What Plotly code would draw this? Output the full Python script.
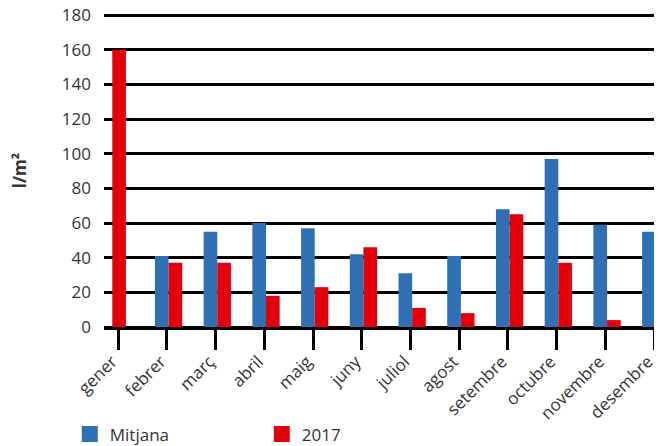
import plotly.graph_objects as go

months = ["gener", "febrer", "març", "abril", "maig", "juny", "juliol",
          "agost", "setembre", "octubre", "novembre", "desembre"]
mitjana = [None, 41, 55, 60, 57, 42, 31, 41, 68, 97, 59, 55]
y2017 = [160, 37, 37, 18, 23, 46, 11, 8, 65, 37, 4, None]
yticks = [0, 20, 40, 60, 80, 100, 120, 140, 160, 180]

BLUE = "#2f6fb3"
RED = "#e2000b"
W = 0.28
blue_off = [-0.245] * len(months)
red_off = [-0.12 if m is None else 0.035 for m in mitjana]

fig = go.Figure()
fig.add_trace(go.Bar(x=months, y=mitjana, name="Mitjana", marker_color=BLUE,
                     marker_line_width=0, width=[W] * len(months), offset=blue_off,
                     legendgroup="m", showlegend=False))
fig.add_trace(go.Bar(x=months, y=y2017, name="2017", marker_color=RED,
                     marker_line_width=0, width=[W] * len(months), offset=red_off,
                     legendgroup="y", showlegend=False))
# legend entries with larger square swatches
for name, col, grp in [("Mitjana", BLUE, "m"), ("2017", RED, "y")]:
    fig.add_trace(go.Scatter(x=[None], y=[None], mode="markers", name=name,
                             legendgroup=grp, showlegend=True,
                             marker=dict(symbol="square", size=21, color=col,
                                         line=dict(width=0))))

font = "Open Sans, Noto Sans, sans-serif"
fig.update_layout(
    width=654, height=438,
    margin=dict(l=96, r=6, t=6, b=119, autoexpand=False),
    plot_bgcolor="white", paper_bgcolor="white",
    barmode="overlay",
    font=dict(family=font, size=17, color="#333333"),
    showlegend=True,
    legend=dict(orientation="h", x=-0.062, xanchor="left", y=-0.343, yanchor="middle",
                entrywidth=147, entrywidthmode="pixels", itemsizing="trace",
                font=dict(size=17, color="#333333"), traceorder="normal"),
    xaxis=dict(type="category", range=[-0.29, 11.04], tickangle=-45, automargin=False,
               ticks="outside", ticklen=20, tickwidth=3, tickcolor="black",
               ticklabelstandoff=-5, ticklabelshift=-6, ticklabeloverflow="allow",
               showline=True, linecolor="black", linewidth=3,
               showgrid=False, tickfont=dict(size=17, color="#333333")),
    yaxis=dict(range=[0, 180.6], tickvals=yticks, showgrid=True, gridcolor="black",
               gridwidth=2.5, zeroline=True, zerolinecolor="black", zerolinewidth=3,
               automargin=False, ticklabeloverflow="allow",
               ticks="", ticklabelstandoff=12, tickfont=dict(size=17, color="#333333"),
               title=dict(text="<b>l/m²</b>", font=dict(size=17, color="#333333"),
                          standoff=30)),
)

fig.write_html("out.html")
